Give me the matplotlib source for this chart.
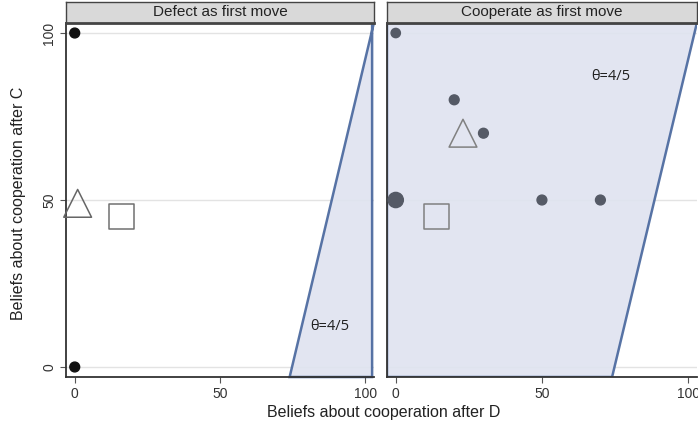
import numpy as np
import matplotlib.pyplot as plt

plt.rcParams['font.family'] = ['Liberation Sans', 'DejaVu Sans']

# data
panels = ['Defect as first move', 'Cooperate as first move']

# individual beliefs (after D, after C)
dots_x = [[0, 0], [0, 20, 30, 0, 50, 70]]
dots_y = [[100, 0], [100, 80, 70, 50, 50, 50]]
dots_s = [[50, 50], [45, 50, 50, 120, 50, 50]]
dot_col = ['#111111', '#555a66']

# means
tri_x = [1, 23]
tri_y = [49, 70]
sq_x = [16, 14]
sq_y = [45, 45]

# theta = 4/5 boundary: x from 74 at the bottom to 103 at the top
line_x = [74, 103]
line_y = [-3, 103]

xlim = (-3, 103)
ylim = (-3, 103)
ticks = [0, 50, 100]

fill_col = '#dfe3f0'
edge_col = '#46659c'

fig = plt.figure(figsize=(6.98, 4.33), dpi=100)
fig.patch.set_facecolor('white')

pos = [[0.0946, 0.1293, 0.441, 0.8176], [0.5544, 0.1293, 0.444, 0.8176]]

for i in range(2):
    ax = fig.add_axes(pos[i])
    ax.set_xlim(*xlim)
    ax.set_ylim(*ylim)
    for y in ticks:
        ax.axhline(y, color='#e3e3e3', lw=1, zorder=0)

    if i == 0:
        px = [line_x[0], line_x[1], 102.4, 102.4]
        py = [line_y[0], line_y[1], line_y[1], line_y[0]]
    else:
        px = [-3, -3, line_x[1], line_x[0]]
        py = [line_y[0], line_y[1], line_y[1], line_y[0]]
    ax.fill(px, py, facecolor=fill_col, edgecolor=edge_col, lw=1.8,
            alpha=0.9, zorder=1, clip_on=(i == 1))

    ax.scatter(dots_x[i], dots_y[i], s=dots_s[i], color=dot_col[i],
               zorder=3, clip_on=False)
    ax.scatter([tri_x[i]], [tri_y[i]], marker='^', s=400, facecolor='none',
               edgecolor='#666666' if i == 0 else '#808080', lw=1.1,
               zorder=3, clip_on=False)
    ax.scatter([sq_x[i]], [sq_y[i]], marker='s', s=320, facecolor='none',
               edgecolor='#707070' if i == 0 else '#808080', lw=1.1,
               zorder=3, clip_on=False)

    if i == 0:
        ax.text(88, 12, 'θ=4/5', ha='center', va='center', fontsize=10.5,
                color='#222222', zorder=4, family='Open Sans')
    else:
        ax.text(73.5, 87, 'θ=4/5', ha='center', va='center', fontsize=10.5,
                color='#222222', zorder=4, family='Open Sans')

    ax.set_xticks(ticks)
    ax.set_xticklabels([str(t) for t in ticks], fontsize=10, color='#333333')
    if i == 0:
        ax.set_yticks(ticks)
        ax.set_yticklabels([str(t) for t in ticks], fontsize=10,
                           color='#333333', rotation=90, va='center')
    else:
        ax.set_yticks([])
    ax.tick_params(axis='both', length=4, color='#555555', pad=3)

    for s in ['top', 'right']:
        ax.spines[s].set_visible(False)
    for s in ['left', 'bottom']:
        ax.spines[s].set_color('#333333')
        ax.spines[s].set_linewidth(1.3)

    # title strip
    sx, sy, sw, sh = pos[i][0], pos[i][1] + pos[i][3], pos[i][2], 0.0485
    strip = fig.add_axes([sx, sy, sw, sh])
    strip.set_xticks([])
    strip.set_yticks([])
    strip.set_facecolor('#d9d9d9')
    for s in strip.spines.values():
        s.set_color('#444444')
        s.set_linewidth(1)
    strip.spines['bottom'].set_linewidth(2)
    strip.text(0.5, 0.5, panels[i], ha='center', va='center', fontsize=11,
               color='#222222', transform=strip.transAxes)

fig.text(0.026, 0.53, 'Beliefs about cooperation after C', rotation=90,
         ha='center', va='center', fontsize=11.5, color='#222222')
fig.text(0.549, 0.048, 'Beliefs about cooperation after D', ha='center',
         va='center', fontsize=11.5, color='#222222')

fig.savefig('out.png', dpi=100)
